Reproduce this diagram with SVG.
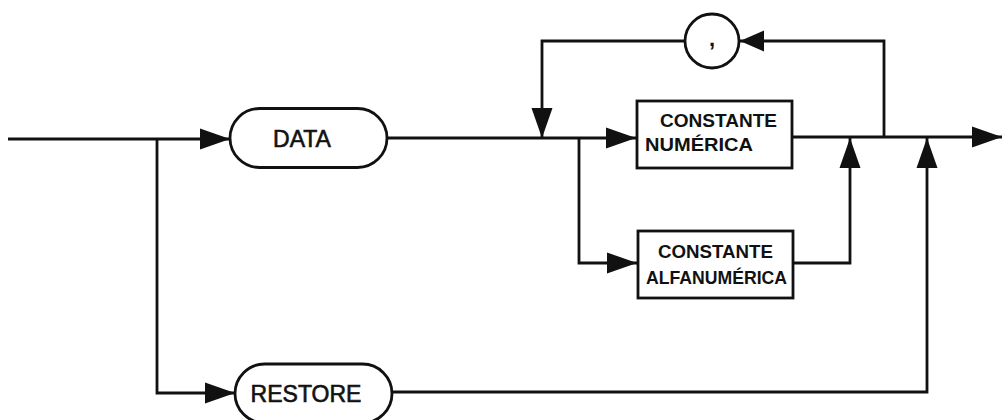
<svg xmlns="http://www.w3.org/2000/svg" width="1003" height="420" viewBox="0 0 1003 420">
  <style>
    .wire { fill: none; stroke: #111; stroke-width: 2.8; stroke-linejoin: miter; }
    .shape { fill: #fff; stroke: #111; stroke-width: 2.8; }
    .kw { font-family: "Liberation Sans", Arial, sans-serif; font-size: 23px; fill: #111; stroke: #111; stroke-width: 0.6; text-anchor: middle; }
    .box { font-family: "Liberation Sans", Arial, sans-serif; font-size: 19px; font-weight: bold; fill: #111; }
    .sep { font-family: "Liberation Sans", Arial, sans-serif; font-size: 22px; font-weight: bold; fill: #111; text-anchor: middle; }
  </style>
  <defs>
    <marker id="head" viewBox="0 0 30 22" refX="30" refY="11" markerWidth="30" markerHeight="22" markerUnits="userSpaceOnUse" orient="auto">
      <path d="M0,0.5 L30,11 L0,21.5 Z" fill="#111"/>
    </marker>
    <marker id="headSmall" viewBox="0 0 24 22" refX="24" refY="11" markerWidth="24" markerHeight="22" markerUnits="userSpaceOnUse" orient="auto">
      <path d="M0,0.5 L24,11 L0,21.5 Z" fill="#111"/>
    </marker>
  </defs>
  <rect width="1003" height="420" fill="#fff"/>

  <g id="connectors">
    <!-- entry into DATA -->
    <path class="wire" d="M8,139 H230" marker-end="url(#head)"/>
    <!-- branch down to RESTORE -->
    <path class="wire" d="M157,139 V393 H235" marker-end="url(#head)"/>
    <!-- DATA to numeric constant -->
    <path class="wire" d="M387,138 H636" marker-end="url(#head)"/>
    <!-- repeat loop: back over the comma -->
    <path class="wire" d="M884,137 V41 H740" marker-end="url(#headSmall)"/>
    <path class="wire" d="M685,41 H542 V138" marker-end="url(#head)"/>
    <!-- branch to alphanumeric constant -->
    <path class="wire" d="M579,138 V263 H637" marker-end="url(#head)"/>
    <!-- alphanumeric constant rejoins -->
    <path class="wire" d="M793,263 H850 V138" marker-end="url(#head)"/>
    <!-- exit -->
    <path class="wire" d="M792,137 H1002" marker-end="url(#head)"/>
    <!-- RESTORE rejoins exit -->
    <path class="wire" d="M392,392 H927 V138" marker-end="url(#head)"/>
  </g>

  <g id="data">
    <rect class="shape" x="230" y="108.5" width="157" height="59" rx="29.5"/>
    <text class="kw" x="302" y="147">DATA</text>
  </g>

  <g id="restore">
    <rect class="shape" x="235" y="364" width="157" height="59" rx="29.5"/>
    <text class="kw" x="306" y="402">RESTORE</text>
  </g>

  <g id="constante-numerica">
    <rect class="shape" x="637" y="101" width="155" height="67"/>
    <text class="box" x="660" y="127" textLength="117" lengthAdjust="spacingAndGlyphs">CONSTANTE</text>
    <text class="box" x="645" y="151" textLength="108" lengthAdjust="spacingAndGlyphs">NUMÉRICA</text>
  </g>

  <g id="constante-alfanumerica">
    <rect class="shape" x="638" y="231" width="155" height="67"/>
    <text class="box" x="658" y="258" textLength="115" lengthAdjust="spacingAndGlyphs">CONSTANTE</text>
    <text class="box" x="646" y="284" textLength="141" lengthAdjust="spacingAndGlyphs">ALFANUMÉRICA</text>
  </g>

  <g id="comma">
    <circle class="shape" cx="712" cy="41" r="27"/>
    <text class="sep" x="712" y="46">,</text>
  </g>
</svg>
